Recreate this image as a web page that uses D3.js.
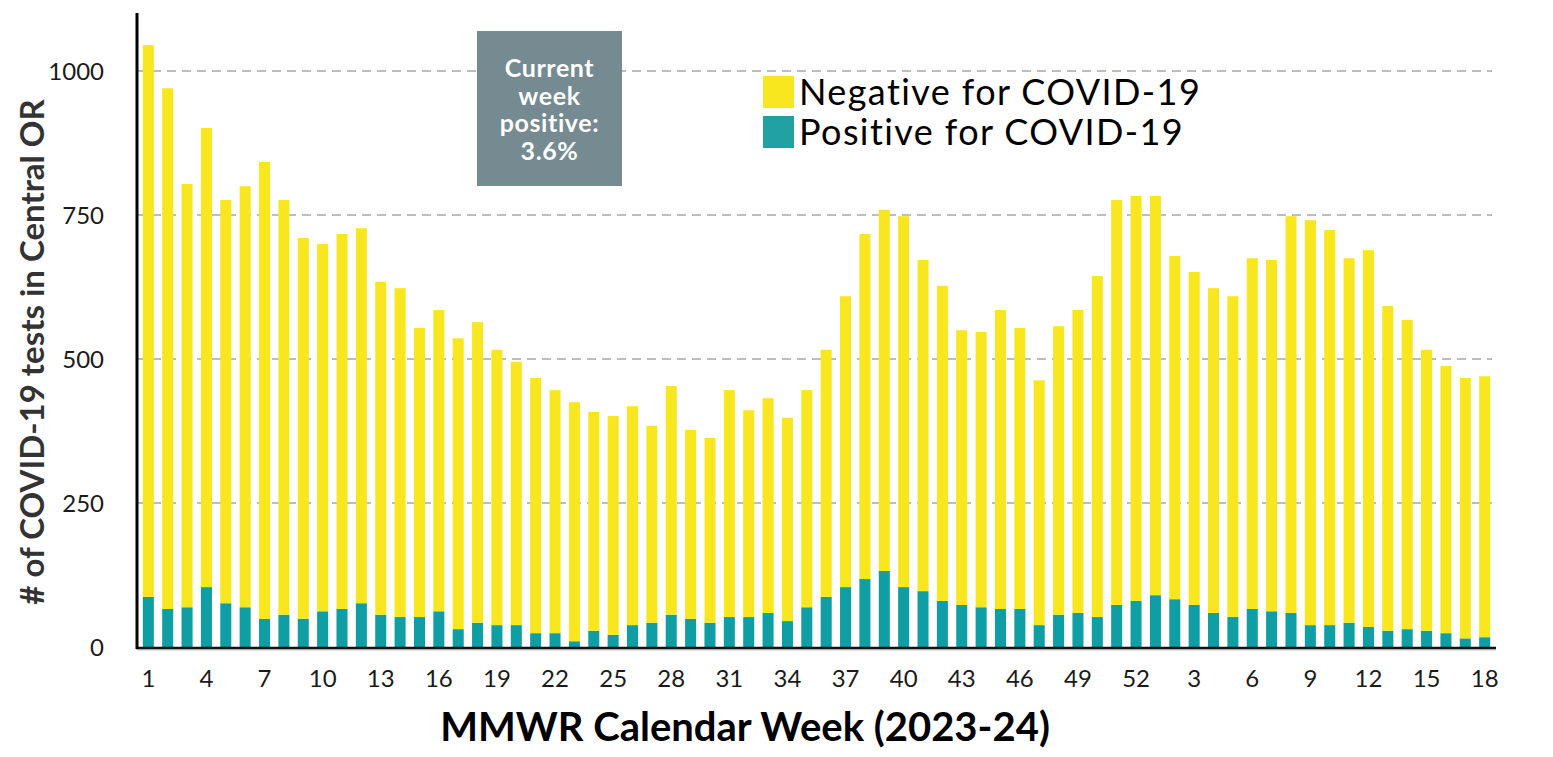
<!DOCTYPE html>
<html>
<head>
<meta charset="utf-8">
<script src="https://cdn.jsdelivr.net/npm/d3@7"></script>
<style>
html,body{margin:0;padding:0;background:#fff;}
svg{display:block;font-family:Lato, "Open Sans", sans-serif;}
</style>
</head>
<body>
<svg id="chart" width="1553" height="757"></svg>
<script>
// MMWR weeks 2023 wk1..52, then 2024 wk1..18
const weeks = [1,2,3,4,5,6,7,8,9,10,11,12,13,14,15,16,17,18,19,20,21,22,23,24,25,26,27,28,29,30,31,32,33,34,35,36,37,38,39,40,41,42,43,44,45,46,47,48,49,50,51,52,
  1,2,3,4,5,6,7,8,9,10,11,12,13,14,15,16,17,18];
const tickLabels = ["1","4","7","10","13","16","19","22","25","28","31","34","37","40","43","46","49","52","3","6","9","12","15","18"];
const positive = [87,66,69,104,76,69,49,56,49,62, 66,76,56,52,52,62,31,42,38,38,
  24,24,10,28,21,38,42,56,49,42, 52,52,59,45,69,87,104,118,132,104,
  97,80,73,69,66,66,38,56,59,52, 73,80,90,83,73,59,52,66,62,59,
  38,38,42,35,28,31,28,24,15,17];
const negative = [958,904,735,797,700,731,793,720,661,638, 651,651,578,571,502,523,505,522,478,457,
  443,422,415,380,380,380,342,397,328,321, 394,359,373,353,377,429,505,599,627,644,
  575,547,477,478,519,488,425,501,526,592, 703,703,693,596,578,564,557,609,610,689,
  703,686,633,654,564,537,488,464,452,453];
const yTicks = [0,250,500,750,1000];
const seriesNames = ["Negative for COVID-19","Positive for COVID-19"];
const colors = {neg:"#F8E71F", pos:"#109EA5"};
const annotation = ["Current","week","positive:","3.6%"];

const svg = d3.select("#chart");
const idx = d3.range(weeks.length);
const x = d3.scaleBand().domain(idx).range([137,1496]).paddingInner(0.43).paddingOuter(0.3);
const y = d3.scaleLinear().domain([0,1100]).range([647,13.4]);

// gridlines
svg.append("g").selectAll("line").data(yTicks.filter(d=>d>0)).join("line")
  .attr("x1",137).attr("x2",1492)
  .attr("y1",d=>y(d)).attr("y2",d=>y(d))
  .attr("stroke","#bdbdbd").attr("stroke-width",2).attr("stroke-dasharray","9,6");

// bars
const g = svg.append("g");
g.selectAll("rect.pos").data(idx).join("rect").attr("class","pos")
  .attr("x",i=>x(i)).attr("width",x.bandwidth())
  .attr("y",i=>y(positive[i])).attr("height",i=>y(0)-y(positive[i]))
  .attr("fill",colors.pos);
g.selectAll("rect.neg").data(idx).join("rect").attr("class","neg")
  .attr("x",i=>x(i)).attr("width",x.bandwidth())
  .attr("y",i=>y(positive[i]+negative[i])).attr("height",i=>y(positive[i])-y(positive[i]+negative[i]))
  .attr("fill",colors.neg);

// x axis
svg.append("line").attr("x1",137).attr("x2",1496).attr("y1",650).attr("y2",650)
  .attr("stroke","#e0e0e0").attr("stroke-width",2);
svg.append("line").attr("x1",136).attr("x2",1496).attr("y1",648).attr("y2",648)
  .attr("stroke","#111").attr("stroke-width",2.5);
// y axis
svg.append("line").attr("x1",137).attr("x2",137).attr("y1",13).attr("y2",649)
  .attr("stroke","#000").attr("stroke-width",3);

// x tick labels (every third bar)
const tickIdx = idx.filter(i=>i%3===0);
const xAxis = d3.axisBottom(x).tickValues(tickIdx).tickSize(0).tickPadding(0)
  .tickFormat((d,k)=>tickLabels[k]);
const xg = svg.append("g").attr("transform","translate(0,670)").call(xAxis);
xg.select(".domain").remove();
xg.selectAll("text").attr("font-size",24).attr("fill","#1a1a1a").attr("font-family","Lato").attr("dy","0.71em");

// y tick labels
const yAxis = d3.axisLeft(y).tickValues(yTicks).tickSize(0).tickPadding(0).tickFormat(d3.format("d"));
const yg = svg.append("g").attr("transform","translate(104,0)").call(yAxis);
yg.select(".domain").remove();
yg.selectAll("text").attr("font-size",24).attr("fill","#1a1a1a").attr("font-family","Lato").attr("dy","0.35em");

// axis titles
svg.append("text").attr("transform","translate(44,352) rotate(-90)")
  .attr("text-anchor","middle").attr("font-size",33).attr("font-weight","bold").attr("fill","#333")
  .text("# of COVID-19 tests in Central OR");
svg.append("text").attr("x",745).attr("y",741)
  .attr("text-anchor","middle").attr("font-size",40).attr("font-weight","bold").attr("fill","#000")
  .text("MMWR Calendar Week (2023-24)");

// annotation box
svg.append("rect").attr("x",477).attr("y",31).attr("width",145).attr("height",155).attr("fill","#758A91");
svg.append("g").selectAll("text").data(annotation).join("text")
  .attr("x",549.5).attr("y",(d,i)=>[77,105,132,160][i])
  .attr("text-anchor","middle").attr("font-size",25).attr("font-weight","bold").attr("fill","#fff")
  .attr("letter-spacing",0.6)
  .text(d=>d);

// legend
const leg = svg.append("g");
[colors.neg, "#21A1A2"].forEach((c,i)=>{
  leg.append("rect").attr("x",763).attr("y",76+i*40).attr("width",31).attr("height",32).attr("fill",c);
  leg.append("text").attr("x",799).attr("y",105+i*40).attr("font-size",36).attr("fill","#000")
    .attr("letter-spacing",1.4)
    .text(seriesNames[i]);
});
</script>
</body>
</html>
